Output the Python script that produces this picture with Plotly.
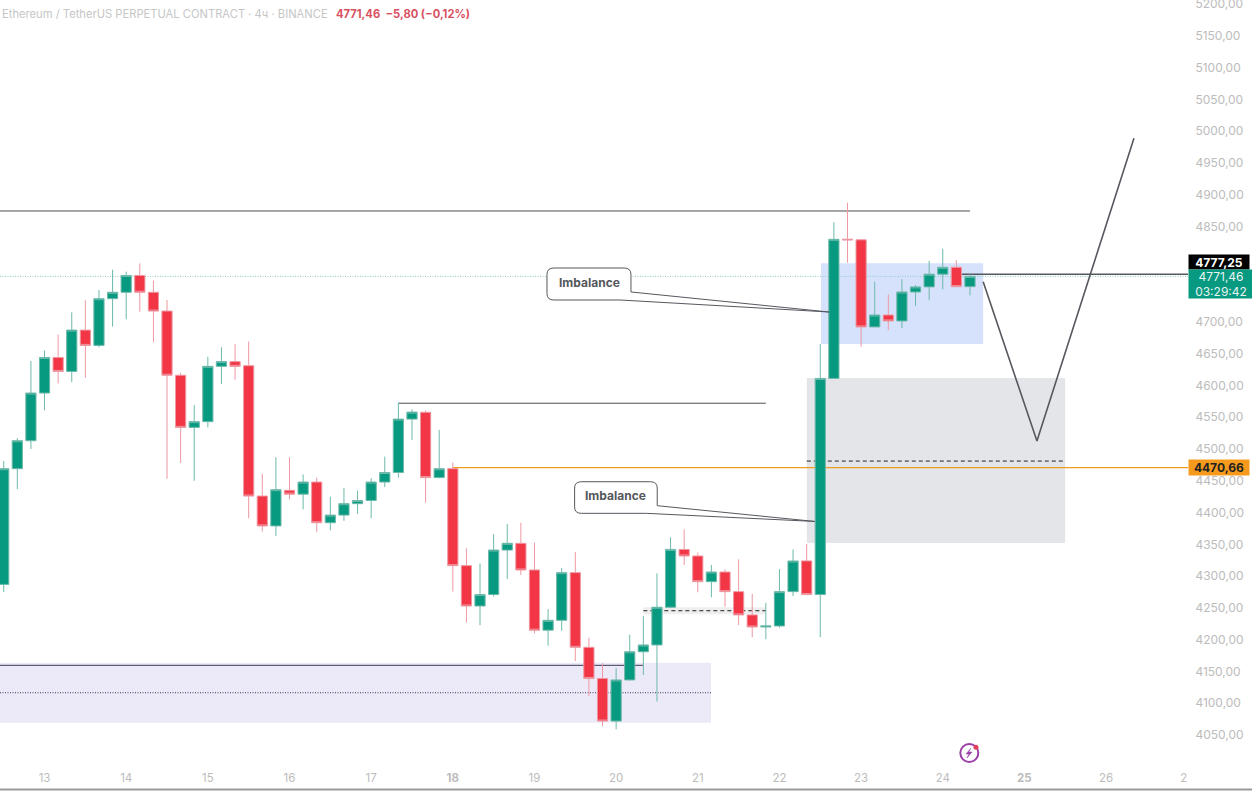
# %% in
import plotly.graph_objects as go

# %% candles (4h bars, index 0 is the leftmost one)
bar_open = [4287, 4469, 4513, 4588, 4644, 4622, 4687, 4663, 4736.5, 4746.5, 4773, 4746.5,
            4717, 4616, 4534, 4543, 4630, 4637.5, 4631, 4426, 4379, 4435, 4429, 4448,
            4384, 4396, 4414, 4419, 4448, 4463, 4547, 4557.7, 4455, 4469, 4316.5, 4253,
            4271, 4341, 4351.6, 4309.7, 4215, 4230.5, 4305.5, 4188, 4139, 4072, 4136.7, 4181,
            4191.7, 4251, 4342, 4331.7, 4291.3, 4306.5, 4275.6, 4239, 4220, 4221.6, 4275.6, 4324,
            4271, 4611, 4830, 4829, 4692, 4710.8, 4701.4, 4747, 4755, 4775, 4785.8, 4755.4]
bar_high = [4481, 4517, 4638.5, 4655, 4680, 4715, 4734, 4750, 4782, 4779, 4792, 4765,
            4734.5, 4620, 4569, 4645, 4660, 4665, 4669, 4461, 4487, 4487, 4460, 4455,
            4425, 4439, 4434.5, 4454, 4488, 4573, 4562.5, 4561, 4530, 4478.5, 4343.8, 4320,
            4366, 4382, 4384, 4352.7, 4248, 4313, 4338, 4203, 4163, 4155, 4208, 4237,
            4304.4, 4361, 4373.6, 4337, 4317.5, 4310.7, 4326.5, 4272, 4258, 4311, 4342, 4350.6,
            4665, 4856.5, 4887.5, 4830, 4763, 4743, 4767, 4758, 4796, 4815, 4797, 4775]
bar_low = [4275, 4437, 4500, 4561, 4603, 4605, 4612, 4660, 4692.5, 4704, 4716, 4668,
           4453, 4478, 4450, 4534, 4602, 4609, 4391, 4370, 4363, 4421, 4405, 4369,
           4372, 4387, 4398, 4391, 4440, 4455, 4514, 4415.6, 4454, 4275.6, 4227, 4222.7,
           4268, 4295.5, 4301.8, 4210, 4190.7, 4214, 4166.5, 4111.5, 4064, 4059, 4136, 4144.5,
           4102.6, 4250, 4317.5, 4274.6, 4266.7, 4252, 4223, 4203.8, 4200.6, 4219, 4268.8, 4270,
           4204, 4611, 4793, 4661, 4692, 4687, 4690, 4725, 4734, 4751, 4755, 4741.7]
bar_close = [4469, 4513, 4588, 4644, 4622, 4687, 4663, 4736.5, 4746.5, 4773, 4746.5, 4717,
             4616, 4534, 4543, 4630, 4637.5, 4630, 4426, 4379, 4436, 4429, 4448, 4384,
             4396, 4414, 4419, 4448, 4463, 4547, 4558, 4455, 4469, 4316.5, 4253, 4271,
             4341, 4351.6, 4309.7, 4215, 4230.5, 4305.5, 4188, 4139, 4072, 4136.7, 4181, 4191.7,
             4251, 4342, 4331.7, 4291.3, 4306.5, 4275.6, 4239, 4220, 4221.6, 4275.6, 4323.8, 4271,
             4611, 4829.8, 4829, 4692, 4710.8, 4701.4, 4747, 4755, 4775, 4785.8, 4755.4, 4771.46]
bar_index = list(range(len(bar_close)))

# %% axis labels
day_ticks = [3, 9, 15, 21, 27, 33, 39, 45, 51, 57, 63, 69, 75, 81, 86.7]
day_labels = ['13', '14', '15', '16', '17', '<b>18</b>', '19', '20', '21', '22', '23', '24', '<b>25</b>', '26', '2']
price_ticks = [5200, 5150, 5100, 5050, 5000, 4950, 4900, 4850, 4700, 4650, 4600, 4550, 4500,
               4450, 4400, 4350, 4300, 4250, 4200, 4150, 4100, 4050]
price_labels = [f'{p},00' for p in price_ticks]

# %% drawings
top_level = 4874.4
swing_level = 4572
open_level = 4470.66
ask_level = 4775
last_price = 4771.46
grey_mid = 4481
small_mid = 4245.6
purple_top_line = 4159.7
purple_mid_line = 4116.6
plan_x = [71.97, 75.92, 83.05]
plan_y = [4763, 4512.6, 4989]
bolt_x = [71.08, 70.71, 70.93, 70.78, 71.15, 70.93]
bolt_y = [4029.7, 4020.2, 4020.2, 4013.9, 4023.3, 4023.3]

GREEN = '#089981'
RED = '#f23645'
GREY_TEXT = '#bcbcbc'
DARK = '#4d4f55'
X_MIN, X_MAX = -0.272, 87.02


def hline(x0, x1, y, color=DARK, dash='solid', width=1, layer='below'):
    return dict(type='line', x0=x0, x1=x1, y0=y, y1=y, xref='x', yref='y', layer=layer,
                line=dict(color=color, dash=dash, width=width))


def zone(x0, x1, y0, y1, color):
    return dict(type='rect', x0=x0, x1=x1, y0=y0, y1=y1, xref='x', yref='y', layer='below',
                fillcolor=color, line=dict(width=0))


def callout(left, right, top, bottom, tail_y, tip_x, tip_y, back_x):
    # rounded box with the long tail as one path
    rx, ry = 0.5, 10
    path = (f'M {left + rx} {top} L {right - rx} {top} Q {right} {top} {right} {top - ry} '
            f'L {right} {tail_y} L {tip_x} {tip_y} L {back_x} {bottom} L {left + rx} {bottom} '
            f'Q {left} {bottom} {left} {bottom + ry} L {left} {top - ry} Q {left} {top} {left + rx} {top} Z')
    return dict(type='path', path=path, xref='x', yref='y', layer='above',
                fillcolor='white', line=dict(color='#55585e', width=1))


shapes = [
    zone(59.01, 77.99, 4352, 4611.7, '#e3e5e9'),
    zone(60.05, 71.97, 4665, 4792, '#d6e1fc'),
    zone(X_MIN, 51.97, 4069.4, 4163.8, '#ece9f8'),
    zone(47, 56, 4240, 4251, '#eeeeee'),
    hline(X_MIN, 71.0, top_level),
    hline(29, 56, swing_level),
    hline(X_MIN, X_MAX, last_price, color='#8fcfc2', dash='1px,1.5px'),
    hline(33, X_MAX, open_level, color='#ee9b20', width=1.1),
    hline(70, X_MAX, ask_level, color='#55585e', width=1.5),
    hline(59.01, 77.9, grey_mid, color='#222222', dash='4px,3px'),
    hline(47, 56, small_mid, color='#222222', dash='4px,3px'),
    hline(X_MIN, 46.97, purple_top_line, color='#3c3c58'),
    hline(X_MIN, 51.97, purple_mid_line, color='#3c3c58', dash='1px,1.5px'),
    callout(39.92, 46.09, 4784.7, 4734.4, 4747, 60.64, 4715.5, 45.28),
    callout(41.95, 48.02, 4448.5, 4398.8, 4410.8, 59.61, 4386, 47.23),
    dict(type='line', x0=0, x1=1.06, y0=-0.032, y1=-0.032, xref='paper', yref='paper',
         line=dict(color='#9a9a9a', width=2)),
]

# %% figure
fig = go.Figure()
fig.add_trace(go.Candlestick(
    x=bar_index, open=bar_open, high=bar_high, low=bar_low, close=bar_close,
    whiskerwidth=0,
    increasing=dict(line=dict(color='#6db9aa', width=1), fillcolor=GREEN),
    decreasing=dict(line=dict(color='#ee98a2', width=1), fillcolor=RED),
    showlegend=False, hoverinfo='skip',
))
fig.add_trace(go.Scatter(x=plan_x, y=plan_y, mode='lines', showlegend=False, hoverinfo='skip',
                         line=dict(color='#55585e', width=1.6)))
# small alert icon at the bottom
fig.add_trace(go.Scatter(x=[70.95], y=[4021.8], mode='markers', showlegend=False, hoverinfo='skip',
                         marker=dict(symbol='circle-open', size=18, color='#9c3fa8', line=dict(width=2))))
fig.add_trace(go.Scatter(x=bolt_x, y=bolt_y, mode='lines', fill='toself', fillcolor='#9c3fa8',
                         showlegend=False, hoverinfo='skip', line=dict(color='#9c3fa8', width=0.5)))
fig.add_trace(go.Scatter(x=[71.44], y=[4030.7], mode='markers', showlegend=False, hoverinfo='skip',
                         marker=dict(size=5, color='#e0405a')))

annotations = [
    dict(x=0.0, y=0.9818, xref='paper', yref='paper', xanchor='left', yanchor='middle', showarrow=False,
         text='Ethereum / TetherUS PERPETUAL CONTRACT · 4ч · BINANCE',
         font=dict(family='Inter', size=11.2, color='#c6c6c6')),
    dict(x=0.2815, y=0.9818, xref='paper', yref='paper', xanchor='left', yanchor='middle', showarrow=False,
         text='<b>4771,46  −5,80 (−0,12%)</b>', font=dict(family='Inter', size=11.2, color='#d9505f')),
    dict(x=43.03, y=4762.7, xref='x', yref='y', showarrow=False, text='<b>Imbalance</b>',
         font=dict(family='Inter', size=12, color='#55575c')),
    dict(x=44.98, y=4426.7, xref='x', yref='y', showarrow=False, text='<b>Imbalance</b>',
         font=dict(family='Inter', size=12, color='#55575c')),
    dict(x=1.0, y=4794, xref='paper', yref='y', xanchor='left', yanchor='middle', showarrow=False,
         width=60, height=14, bgcolor='#000000', borderpad=0, text='<b>4777,25</b>',
         font=dict(family='Inter', size=12, color='white')),
    dict(x=1.0, y=4759.6, xref='paper', yref='y', xanchor='left', yanchor='middle', showarrow=False,
         width=64, height=28, bgcolor=GREEN, borderpad=0, text='4771,46<br>03:29:42',
         font=dict(family='Inter', size=12, color='#e6f5f2')),
    dict(x=1.0, y=4470.66, xref='paper', yref='y', xanchor='left', yanchor='middle', showarrow=False,
         width=60, height=15, bgcolor='#f59a1c', borderpad=0, text='<b>4470,66</b>',
         font=dict(family='Inter', size=12, color='#222222')),
]

fig.update_layout(
    width=1252, height=791,
    margin=dict(l=0, r=64, t=0, b=26, autoexpand=False),
    paper_bgcolor='white', plot_bgcolor='white',
    boxgap=0.25, boxgroupgap=0,
    shapes=shapes, annotations=annotations,
    showlegend=False,
    xaxis=dict(range=[X_MIN, X_MAX], tickmode='array', tickvals=day_ticks, ticktext=day_labels,
               showgrid=False, zeroline=False, showline=False, rangeslider=dict(visible=False),
               automargin=False, ticks='outside', ticklen=2, tickcolor='white',
               tickfont=dict(family='Inter', size=11.5, color=GREY_TEXT)),
    yaxis=dict(range=[4002.9, 5206.3], side='right', tickmode='array', tickvals=price_ticks, ticktext=price_labels,
               showgrid=False, zeroline=False, showline=False, ticklabeloverflow='allow', automargin=False,
               ticks='outside', ticklen=4, tickcolor='white',
               tickfont=dict(family='Inter', size=12, color=GREY_TEXT)),
)

fig.write_html("out.html", config=dict(displayModeBar=False),
               post_script="document.body.style.margin='0';document.body.style.overflow='hidden';")
